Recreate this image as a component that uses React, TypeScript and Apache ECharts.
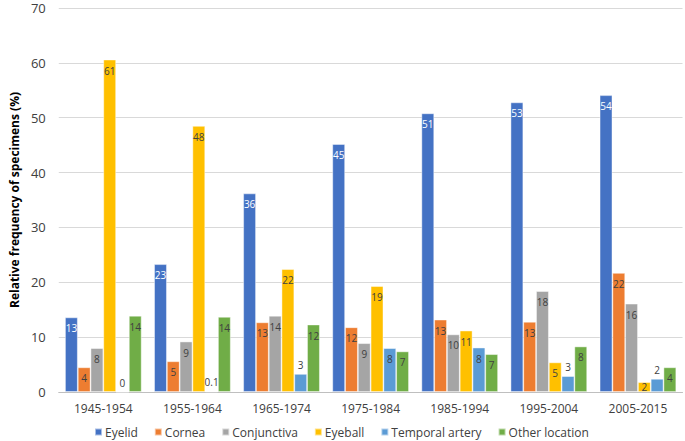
import React, { useEffect, useRef } from "react";
import * as echarts from "echarts";

const categories = ["1945-1954", "1955-1964", "1965-1974", "1975-1984", "1985-1994", "1995-2004", "2005-2015"];
const seriesNames = ["Eyelid", "Cornea", "Conjunctiva", "Eyeball", "Temporal artery", "Other location"];
const colors = ["#4472C4", "#ED7D31", "#A5A5A5", "#FFC000", "#5B9BD5", "#70AD47"];

const eyelid = [13.6, 23.3, 36.2, 45.2, 50.8, 52.8, 54.1];
const cornea = [4.5, 5.6, 12.7, 11.8, 13.2, 12.8, 21.7];
const conjunctiva = [8.0, 9.2, 13.9, 8.9, 10.5, 18.4, 16.1];
const eyeball = [60.6, 48.5, 22.4, 19.3, 11.2, 5.4, 1.8];
const temporalArtery = [0, 0.1, 3.3, 8.0, 8.1, 2.9, 2.4];
const otherLocation = [13.9, 13.7, 12.3, 7.4, 6.9, 8.3, 4.5];

const eyelidLabels = ["13", "23", "36", "45", "51", "53", "54"];
const corneaLabels = ["4", "5", "13", "12", "13", "13", "22"];
const conjunctivaLabels = ["8", "9", "14", "9", "10", "18", "16"];
const eyeballLabels = ["61", "48", "22", "19", "11", "5", "2"];
const temporalLabels = ["0", "0.1", "3", "8", "8", "3", "2"];
const otherLabels = ["14", "14", "12", "7", "7", "8", "4"];
const temporalOutside = [true, true, true, false, false, true, true];

const values = [eyelid, cornea, conjunctiva, eyeball, temporalArtery, otherLocation];
const labels = [eyelidLabels, corneaLabels, conjunctivaLabels, eyeballLabels, temporalLabels, otherLabels];

export default function App() {
  const ref = useRef<HTMLDivElement>(null);
  useEffect(() => {
    if (!ref.current) return;
    const chart = echarts.init(ref.current, null, { renderer: "svg" });
    const font = "'Open Sans', 'Noto Sans', sans-serif";
    const series = seriesNames.map((name, si) => ({
      name,
      type: "bar",
      barGap: "0%",
      barCategoryGap: "14%",
      itemStyle: { color: colors[si], borderColor: "rgba(255,255,255,0.55)", borderWidth: 0.8 },
      data: values[si].map((v, i) => {
        const outside = si === 4 && temporalOutside[i];
        const tiny = !outside && v < 3;
        return {
          value: v,
          label: {
            show: true,
            position: outside ? "top" : tiny ? "inside" : "insideTop",
            distance: outside ? 4 : 6,
            formatter: labels[si][i],
            color: si === 0 ? "#ffffff" : "#404040",
            fontSize: 10,
            fontFamily: font,
          },
        };
      }),
    }));
    chart.setOption({
      animation: false,
      color: colors,
      grid: { left: 45.5, right: 2.5, top: 8, bottom: 49, containLabel: false },
      legend: {
        top: 426,
        left: 94,
        padding: 0,
        itemWidth: 7,
        itemHeight: 7,
        itemGap: 16,
        icon: "rect",
        textStyle: { fontSize: 12, color: "#404040", fontFamily: font, padding: [0, 0, 0, -2] },
        data: seriesNames,
      },
      xAxis: {
        type: "category",
        data: categories,
        axisLine: { lineStyle: { color: "#bfbfbf", width: 1 } },
        axisTick: { show: false },
        axisLabel: { fontSize: 12, color: "#404040", margin: 10, fontFamily: font },
      },
      yAxis: {
        type: "value",
        min: 0,
        max: 70,
        interval: 10,
        name: "Relative frequency of specimens (%)",
        nameLocation: "middle",
        nameGap: 36,
        nameTextStyle: { fontSize: 12, fontWeight: "bold", color: "#000000", fontFamily: font },
        axisLine: { show: false },
        axisTick: { show: false },
        splitLine: { lineStyle: { color: "#d9d9d9", width: 1 } },
        axisLabel: { fontSize: 13, color: "#404040", margin: 13, fontFamily: font },
      },
      series,
    });
    return () => chart.dispose();
  }, []);
  return <div ref={ref} style={{ position: "fixed", left: 0, top: 0, width: 685, height: 441, background: "#ffffff" }} />;
}
